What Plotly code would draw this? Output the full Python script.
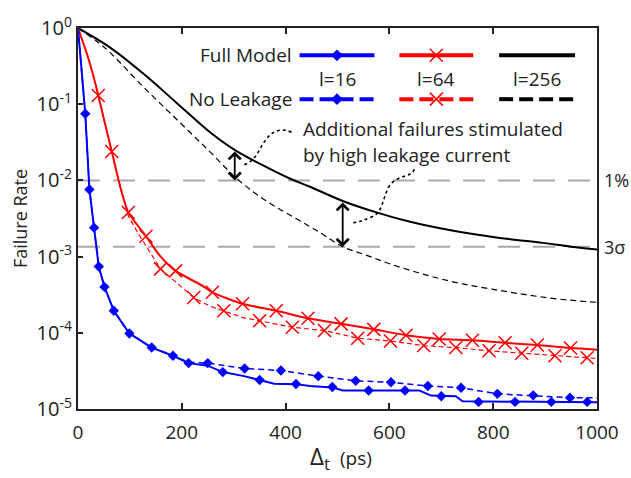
import numpy as np
import plotly.graph_objects as go

# ---------------- data ----------------
# l=16, Full Model (solid line)
b_full_x = [0, 14, 22, 31, 40, 51, 69, 99, 142, 183, 213, 250, 279, 320, 350, 378, 420, 447, 490, 510, 658, 680, 728, 741, 1000]
b_full_y = [1.0, 0.075, 7.6e-3, 2.4e-3, 7.4e-4, 4.0e-4, 1.95e-4, 9.8e-5, 6.4e-5, 5.0e-5, 4.0e-5, 3.7e-5, 3.05e-5, 2.7e-5, 2.4e-5, 2.15e-5, 2.12e-5, 2.0e-5, 1.92e-5, 1.75e-5, 1.75e-5, 1.5e-5, 1.47e-5, 1.26e-5, 1.23e-5]
b_full_mx = [14, 22, 31, 40, 51, 69, 99, 142, 183, 213, 279, 350, 420, 490, 560, 630, 700, 772, 842, 912, 981]
b_full_my = [0.075, 7.6e-3, 2.4e-3, 7.4e-4, 4.0e-4, 1.95e-4, 9.8e-5, 6.4e-5, 5.0e-5, 4.0e-5, 3.05e-5, 2.4e-5, 2.13e-5, 1.94e-5, 1.75e-5, 1.75e-5, 1.47e-5, 1.24e-5, 1.24e-5, 1.24e-5, 1.24e-5]
# l=16, No Leakage (dashed line)
b_nl_x = [0, 14, 22, 31, 40, 51, 69, 99, 142, 183, 213, 250, 321, 391, 463, 535, 603, 674, 738, 808, 877, 948, 1000]
b_nl_y = [1.0, 0.075, 7.6e-3, 2.4e-3, 7.4e-4, 4.0e-4, 1.95e-4, 9.8e-5, 6.4e-5, 5.0e-5, 4.1e-5, 4.0e-5, 3.4e-5, 3.2e-5, 2.7e-5, 2.34e-5, 2.24e-5, 2.0e-5, 1.9e-5, 1.58e-5, 1.51e-5, 1.41e-5, 1.4e-5]
b_nl_mx = [250, 321, 391, 463, 535, 603, 674, 738, 808, 877, 948]
b_nl_my = [4.0e-5, 3.4e-5, 3.2e-5, 2.7e-5, 2.34e-5, 2.24e-5, 2.0e-5, 1.9e-5, 1.58e-5, 1.51e-5, 1.41e-5]

# l=64, Full Model
r_full_x = [0, 19, 36, 39, 65, 83, 97, 131, 158, 188, 241, 259, 317, 382, 443, 507, 570, 632, 696, 760, 823, 885, 949, 1000]
r_full_y = [1.0, 0.42, 0.16, 0.13, 0.024, 7.5e-3, 3.8e-3, 1.85e-3, 1.02e-3, 6.5e-4, 4.1e-4, 3.4e-4, 2.4e-4, 1.95e-4, 1.55e-4, 1.31e-4, 1.11e-4, 9.3e-5, 8.3e-5, 8.0e-5, 7.4e-5, 6.9e-5, 6.3e-5, 6.0e-5]
r_full_mx = [39, 65, 97, 131, 188, 259, 317, 382, 443, 507, 570, 632, 696, 760, 823, 885, 949]
r_full_my = [0.13, 0.024, 3.8e-3, 1.85e-3, 6.5e-4, 3.4e-4, 2.4e-4, 1.95e-4, 1.55e-4, 1.31e-4, 1.11e-4, 9.3e-5, 8.3e-5, 8.0e-5, 7.4e-5, 6.9e-5, 6.3e-5]
# l=64, No Leakage
r_nl_x = [0, 19, 36, 39, 65, 83, 97, 119, 159, 190, 223, 254, 281, 318, 350, 413, 475, 539, 602, 666, 728, 792, 855, 919, 981, 1000]
r_nl_y = [1.0, 0.42, 0.16, 0.13, 0.024, 7.3e-3, 3.4e-3, 1.86e-3, 6.9e-4, 4.5e-4, 2.9e-4, 2.24e-4, 1.95e-4, 1.58e-4, 1.44e-4, 1.18e-4, 1.07e-4, 8.5e-5, 7.8e-5, 6.8e-5, 6.4e-5, 5.8e-5, 5.4e-5, 5.0e-5, 4.7e-5, 4.6e-5]
r_nl_mx = [159, 223, 281, 350, 413, 475, 539, 602, 666, 728, 792, 855, 919, 981]
r_nl_my = [6.9e-4, 2.9e-4, 1.95e-4, 1.44e-4, 1.18e-4, 1.07e-4, 8.5e-5, 7.8e-5, 6.8e-5, 6.4e-5, 5.8e-5, 5.4e-5, 5.0e-5, 4.7e-5]

# l=256, Full Model (log10 values)
k_full_x = [0, 60, 124, 188, 252, 304, 350, 408, 446, 510, 575, 638, 700, 767, 830, 895, 950, 1000]
k_full_log = [0, -0.247, -0.588, -0.97, -1.355, -1.61, -1.78, -1.975, -2.08, -2.27, -2.42, -2.54, -2.63, -2.71, -2.77, -2.82, -2.87, -2.907]
# l=256, No Leakage
k_nl_x = [0, 36, 60, 124, 188, 252, 310, 365, 420, 465, 510, 555, 603, 670, 735, 800, 863, 930, 1000]
k_nl_log = [0, -0.175, -0.31, -0.76, -1.185, -1.61, -2.0, -2.28, -2.50, -2.68, -2.87, -2.98, -3.10, -3.24, -3.35, -3.43, -3.50, -3.56, -3.60]

# reference levels
ref_vals = [1e-2, 1.35e-3]
ref_labels = ["1%", "3σ"]
# positions of the "additional failures" arrows (ps)
arrow_x = [302, 510]

x_ticks = [0, 200, 400, 600, 800, 1000]
y_ticks = [1, 1e-1, 1e-2, 1e-3, 1e-4, 1e-5]
y_ticktext = ["10<sup>0</sup>", "10<sup>-1</sup>", "10<sup>-2</sup>", "10<sup>-3</sup>", "10<sup>-4</sup>", "10<sup>-5</sup>"]

legend_labels = ["l=16", "l=64", "l=256"]
row_labels = ["Full Model", "No Leakage"]

BLUE = "#0000FF"
RED = "#FF0000"
BLACK = "#000000"
TXT = "#222222"
FONT = "Open Sans"

W, H = 631, 478
ML, MR, MT, MB = 78, 33, 18, 69
PW, PH = W - ML - MR, H - MT - MB


def pp(px, py):
    """pixel -> paper coordinates (for decorations only)"""
    return (px - ML) / PW, 1 - (py - MT) / PH


XMK = dict(symbol="x-thin-open", size=13, color=RED, line=dict(color=RED, width=1.5))

fig = go.Figure()

# reference lines
for v in ref_vals:
    fig.add_trace(go.Scatter(x=[0, 1000], y=[v, v], mode="lines",
                             line=dict(color="#AAAAAA", width=2, dash="22px,13px"),
                             showlegend=False, hoverinfo="skip"))

# black curves
fig.add_trace(go.Scatter(x=k_nl_x, y=[10 ** v for v in k_nl_log], mode="lines",
                         line=dict(color=BLACK, width=1.2, dash="6px,4px", shape="spline"), showlegend=False))
fig.add_trace(go.Scatter(x=k_full_x, y=[10 ** v for v in k_full_log], mode="lines",
                         line=dict(color=BLACK, width=2, shape="spline"), showlegend=False))

# red curves
fig.add_trace(go.Scatter(x=r_nl_x, y=r_nl_y, mode="lines",
                         line=dict(color=RED, width=1.2, dash="5px,3px"), showlegend=False))
fig.add_trace(go.Scatter(x=r_full_x, y=r_full_y, mode="lines",
                         line=dict(color=RED, width=2, shape="spline", smoothing=0.6), showlegend=False))
fig.add_trace(go.Scatter(x=r_nl_mx, y=r_nl_my, mode="markers", marker=XMK, showlegend=False))
fig.add_trace(go.Scatter(x=r_full_mx, y=r_full_my, mode="markers", marker=XMK, showlegend=False))

# blue curves
fig.add_trace(go.Scatter(x=b_nl_x, y=b_nl_y, mode="lines",
                         line=dict(color=BLUE, width=1.5, dash="6px,4px"), showlegend=False))
fig.add_trace(go.Scatter(x=b_full_x, y=b_full_y, mode="lines",
                         line=dict(color=BLUE, width=2), showlegend=False))
fig.add_trace(go.Scatter(x=b_nl_mx, y=b_nl_my, mode="markers",
                         marker=dict(symbol="diamond", size=8, color=BLUE), showlegend=False))
fig.add_trace(go.Scatter(x=b_full_mx, y=b_full_my, mode="markers",
                         marker=dict(symbol="diamond", size=8, color=BLUE), showlegend=False))

# ---------- hand-made legend on an overlay axis (0..1 of the plot area) ----------
leg_cols = [(300, 375, BLUE, "diamond"), (400, 474, RED, "x"), (500, 576, BLACK, None)]
rows = [(46, None), (91, "14px,6px")]
for (x0, x1, col, sym) in leg_cols:
    for (yy, dash) in rows:
        a = pp(x0, yy)
        b = pp(x1, yy)
        fig.add_trace(go.Scatter(x=[a[0], b[0]], y=[a[1], b[1]], xaxis="x2", yaxis="y2", mode="lines",
                                 line=dict(color=col, width=4, dash=dash), showlegend=False, hoverinfo="skip"))
        if sym:
            m = pp((x0 + x1) / 2, yy)
            mk = dict(symbol="diamond", size=9, color=col) if sym == "diamond" else XMK
            fig.add_trace(go.Scatter(x=[m[0]], y=[m[1]], xaxis="x2", yaxis="y2", mode="markers",
                                     marker=mk, showlegend=False, hoverinfo="skip"))

ann = []
for lab, (x0, x1, col, sym) in zip(legend_labels, leg_cols):
    p = pp((x0 + x1) / 2, 70)
    ann.append(dict(x=p[0], y=p[1], xref="paper", yref="paper", text=lab, showarrow=False,
                    xanchor="center", yanchor="middle", font=dict(size=19, color=TXT, family=FONT)))
for lab, yy in zip(row_labels, [46, 91]):
    p = pp(294, yy)
    ann.append(dict(x=p[0], y=p[1], xref="paper", yref="paper", text=lab, showarrow=False,
                    xanchor="right", yanchor="middle", font=dict(size=19, color=TXT, family=FONT)))

# text annotation
for txt, yy in [("Additional failures stimulated", 122), ("by high leakage current", 148)]:
    p = pp(301, yy)
    ann.append(dict(x=p[0], y=p[1], xref="paper", yref="paper", text=txt, showarrow=False,
                    xanchor="left", yanchor="middle", font=dict(size=19, color=TXT, family=FONT)))

# right-side level labels
for v, lab in zip(ref_vals, ref_labels):
    ann.append(dict(x=1.0, y=np.log10(v), xref="paper", yref="y", text=lab, showarrow=False,
                    xanchor="left", yanchor="middle", xshift=5, font=dict(size=18, color=TXT, family=FONT)))

# x-axis title: Δ_t (ps)
p = pp(320, 458)
ann.append(dict(x=p[0], y=p[1], xref="paper", yref="paper", text="Δ<sub>t</sub>", showarrow=False,
                xanchor="center", yanchor="middle", font=dict(size=24, color=TXT, family=FONT)))
p = pp(338, 459)
ann.append(dict(x=p[0], y=p[1], xref="paper", yref="paper", text="(ps)", showarrow=False,
                xanchor="left", yanchor="middle", font=dict(size=19, color=TXT, family=FONT)))

# double-headed arrows between the two l=256 curves / levels
top1 = np.interp(arrow_x[0], k_full_x, k_full_log)
bot1 = np.log10(ref_vals[0])
top2 = np.interp(arrow_x[1], k_full_x, k_full_log)
bot2 = np.log10(ref_vals[1])
for xa, t, bt in [(arrow_x[0], top1, bot1), (arrow_x[1], top2, bot2)]:
    ann.append(dict(x=xa, y=bt, ax=xa, ay=t, xref="x", yref="y", axref="x", ayref="y", text="",
                    showarrow=True, arrowhead=4, startarrowhead=4, arrowside="end+start",
                    arrowsize=1.3, startarrowsize=1.3, arrowwidth=1.8, arrowcolor=BLACK))

# dotted connectors (pixel based decoration)
def path(pts):
    s = "M {},{}".format(*pp(*pts[0]))
    for i in range(1, len(pts), 3):
        c = [pp(*q) for q in pts[i:i + 3]]
        s += " C {},{} {},{} {},{}".format(c[0][0], c[0][1], c[1][0], c[1][1], c[2][0], c[2][1])
    return s

shapes = [
    dict(type="path", xref="paper", yref="paper",
         path=path([(292, 125), (272, 116), (264, 136), (257, 148), (252, 155), (248, 157), (243, 159)]),
         line=dict(color=BLACK, width=1.6, dash="dot")),
    dict(type="path", xref="paper", yref="paper",
         path=path([(415, 163), (412, 172), (398, 168), (390, 180), (382, 195), (384, 207), (372, 212),
                    (365, 215), (360, 217), (353, 218)]),
         line=dict(color=BLACK, width=1.6, dash="dot")),
]

fig.update_layout(
    width=W, height=H,
    margin=dict(l=ML, r=MR, t=MT, b=MB),
    paper_bgcolor="white", plot_bgcolor="white",
    font=dict(family=FONT, size=18, color=TXT),
    showlegend=False,
    annotations=ann,
    shapes=shapes,
    xaxis=dict(range=[0, 1000], tickvals=x_ticks, ticks="inside", ticklen=6, tickwidth=1.5,
               tickcolor="#222", showline=True, linecolor="#222", linewidth=2, mirror="ticks",
               showgrid=False, zeroline=False, tickfont=dict(size=19), ticklabelstandoff=5),
    yaxis=dict(type="log", range=[-5, 0], tickvals=y_ticks, ticktext=y_ticktext, ticks="inside",
               ticklen=5, tickwidth=1.5, tickcolor="#222", showline=True, linecolor="#222", linewidth=2,
               mirror=True, showgrid=False, zeroline=False, tickfont=dict(size=20),
               title=dict(text="Failure Rate", font=dict(size=18), standoff=4)),
    xaxis2=dict(range=[0, 1], overlaying="x", visible=False, anchor="y2"),
    yaxis2=dict(range=[0, 1], overlaying="y", visible=False, anchor="x2"),
)

fig.write_html("out.html")
